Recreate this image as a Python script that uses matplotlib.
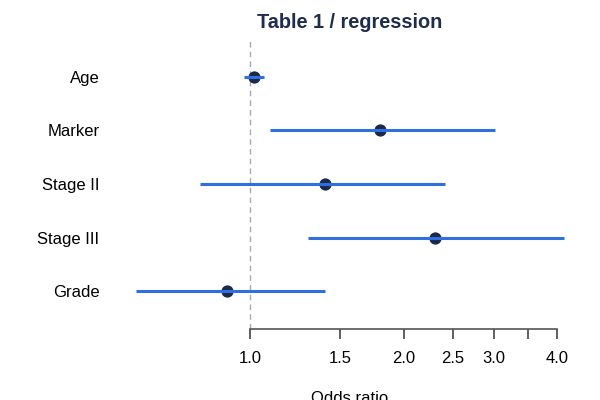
import matplotlib
matplotlib.use("Agg")
import matplotlib.pyplot as plt
import numpy as np

labels = ["Age", "Marker", "Stage II", "Stage III", "Grade"]
odds = [1.02, 1.80, 1.40, 2.30, 0.90]
lower = [0.975, 1.096, 0.798, 1.297, 0.598]
upper = [1.065, 3.02, 2.41, 4.12, 1.405]
tick_vals = [1.0, 1.5, 2.0, 2.5, 3.0, 3.5, 4.0]
tick_labels = ["1.0", "1.5", "2.0", "2.5", "3.0", "", "4.0"]

plt.rcParams['font.family'] = ['Liberation Sans', 'DejaVu Sans']

fig = plt.figure(figsize=(6, 4), dpi=100)
ax = fig.add_axes([119/600, 1 - 328.5/400, (581-119)/600, (328.5-39.5)/400])

n = len(labels)
ypos = np.arange(n, 0, -1)

ax.axvline(1.0, color='#a3a9b5', lw=1, ls=(0, (4, 3)), zorder=1)
ax.scatter(odds, ypos, s=78, color='#1b2a4a', zorder=2, linewidths=0)
ax.hlines(ypos, lower, upper, color='#2f6fe0', lw=2.2, zorder=3)

ax.set_xscale('log')
lo = np.log(min(lower)); hi = np.log(max(upper))
pad = 0.04 * (hi - lo)
ax.set_xlim(np.exp(lo - pad), np.exp(hi + pad))
ax.set_ylim(0.3, n + 0.7)

for s in ['top', 'right', 'left']:
    ax.spines[s].set_visible(False)
ax.spines['bottom'].set_bounds(1.0, 4.0)
ax.spines['bottom'].set_color('#555555')
ax.spines['bottom'].set_linewidth(1.2)

ax.set_xticks(tick_vals)
ax.set_xticklabels(tick_labels)
ax.xaxis.set_minor_locator(matplotlib.ticker.NullLocator())
ax.tick_params(axis='x', length=7.2, width=1.1, color='#333333', labelsize=12, pad=9)
ax.set_yticks(ypos)
ax.set_yticklabels(labels)
ax.tick_params(axis='y', length=0, labelsize=12, pad=14)

ax.set_xlabel("Odds ratio", fontsize=12, labelpad=18)
ax.set_title("Table 1 / regression", fontsize=14.3, fontweight='bold', color='#1f2d4d', pad=8)

fig.savefig("out.png", dpi=100)
